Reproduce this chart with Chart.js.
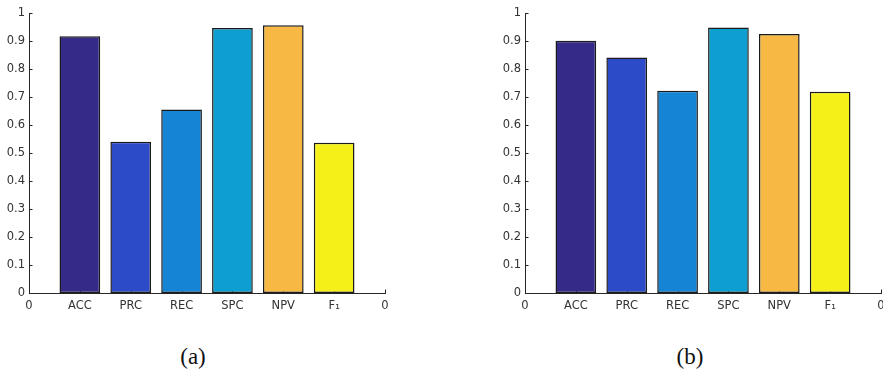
<!DOCTYPE html>
<html>
<head>
<meta charset="utf-8">
<script src="https://cdn.jsdelivr.net/npm/chart.js@4.4.0/dist/chart.umd.min.js"></script>
<style>
  html, body { margin: 0; padding: 0; background: #fff; width: 883px; height: 376px; overflow: hidden; }
  .plot { position: absolute; top: 0; width: 400px; height: 320px; }
  .caption { position: absolute; top: 344px; width: 60px; text-align: center;
             font-family: "Liberation Serif", serif; font-size: 23px; color: #111; }
</style>
</head>
<body>
<div class="plot" style="left:0px"><canvas id="chartA" width="400" height="320"></canvas></div>
<div class="plot" style="left:496px"><canvas id="chartB" width="400" height="320"></canvas></div>
<div class="caption" style="left:163px">(a)</div>
<div class="caption" style="left:660px">(b)</div>
<script>
var categories = ['ACC', 'PRC', 'REC', 'SPC', 'NPV', 'F\u2081'];
var valuesA = [0.917, 0.540, 0.655, 0.946, 0.956, 0.537];
var valuesB = [0.901, 0.841, 0.722, 0.948, 0.925, 0.719];
var barColors = ['#352a87', '#2c4bc8', '#1584d5', '#0c9fd0', '#f7b943', '#f5f018'];
var edgeLabel = '0';
var yTicks = [0, 0.1, 0.2, 0.3, 0.4, 0.5, 0.6, 0.7, 0.8, 0.9, 1];

var axisColor = '#262626';
var tickFont = { family: "'DejaVu Sans', sans-serif", size: 11.5 };

// MATLAB style: tick marks point inside the axes, drawn under the bars
var innerTicks = {
    id: 'innerTicks',
    beforeDatasetsDraw: function (chart) {
        var ctx = chart.ctx, x = chart.scales.x, y = chart.scales.y;
        ctx.save();
        ctx.strokeStyle = axisColor;
        ctx.lineWidth = 1;
        ctx.beginPath();
        yTicks.forEach(function (v) {
            var py = Math.round(y.getPixelForValue(v)) + 0.5;
            ctx.moveTo(x.left, py);
            ctx.lineTo(x.left + 3.5, py);
        });
        for (var i = 0; i < categories.length + 2; i++) {
            var px = Math.round(x.getPixelForValue(i)) + 0.5;
            ctx.moveTo(px, y.bottom);
            ctx.lineTo(px, y.bottom - 3.5);
        }
        ctx.stroke();
        ctx.restore();
    }
};

function makeChart(id, values) {
    var labels = [edgeLabel].concat(categories, [edgeLabel]);
    var data = [null].concat(values, [null]);
    var colors = ['#fff'].concat(barColors, ['#fff']);
    return new Chart(document.getElementById(id), {
        type: 'bar',
        data: {
            labels: labels,
            datasets: [{
                data: data,
                backgroundColor: colors,
                borderColor: '#1a1a1a',
                borderWidth: 1.5,
                borderSkipped: false,
                barPercentage: 0.8,
                categoryPercentage: 1
            }]
        },
        options: {
            responsive: false,
            animation: false,
            layout: { padding: { top: 13, right: 15, left: 0, bottom: 0 } },
            plugins: { legend: { display: false }, tooltip: { enabled: false } },
            scales: {
                x: {
                    offset: false,
                    grid: { display: false, drawTicks: false },
                    border: { display: true, color: axisColor, width: 1 },
                    ticks: { color: '#333', font: tickFont, padding: 6, maxRotation: 0, autoSkip: false },
                    afterFit: function (s) { s.height = 27; s.paddingLeft = 0; s.paddingRight = 0; }
                },
                y: {
                    min: 0,
                    max: 1,
                    grid: { display: false, drawTicks: false },
                    border: { display: true, color: axisColor, width: 1 },
                    afterBuildTicks: function (s) { s.ticks = yTicks.map(function (v) { return { value: v }; }); },
                    ticks: {
                        color: '#333', font: tickFont, padding: 4,
                        callback: function (v) { return String(Math.round(v * 10) / 10); }
                    },
                    afterFit: function (s) { s.width = 29; }
                }
            }
        },
        plugins: [innerTicks]
    });
}

makeChart('chartA', valuesA);
makeChart('chartB', valuesB);
</script>
</body>
</html>
